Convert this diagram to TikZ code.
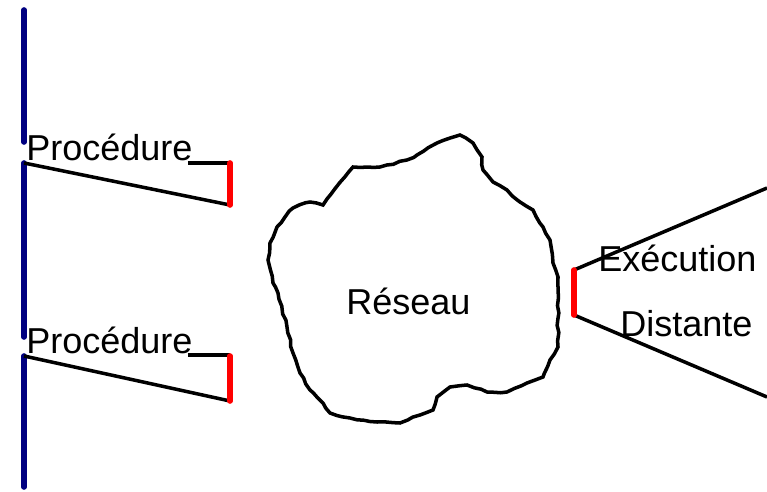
\documentclass[tikz,border=0pt]{standalone}
\usepackage{fontspec}
\setmainfont{Liberation Sans}
\usetikzlibrary{decorations.pathmorphing}
\definecolor{navy}{RGB}{0,0,128}
\tikzset{
  bus/.style={line width=3.2pt,draw=navy,line cap=round},
  port/.style={line width=3.2pt,draw=red,line cap=round},
  link/.style={line width=2pt,draw=black},
  lbl/.style={inner sep=0pt,anchor=base west,font=\fontsize{20.5}{24}\selectfont},
}
\begin{document}
\begin{tikzpicture}[x=0.02cm,y=-0.02cm]
        \useasboundingbox(0,0)rectangle(767,492);
        % bus on the left
        \coordinate(b1)at(24,10);\coordinate(b2)at(24,142);
        \coordinate(b3)at(24,163);\coordinate(b4)at(24,337);
        \coordinate(b5)at(24,356);\coordinate(b6)at(24,487);
        \draw[bus](b1)--(b2);
        \draw[bus](b3)--(b4);
        \draw[bus](b5)--(b6);
        % procedures
        \coordinate(p1t)at(230,163);\coordinate(p1b)at(230,205);
        \coordinate(p2t)at(230,356);\coordinate(p2b)at(230,401);
        \node[lbl](proc1)at(26,161){Procédure};
        \node[lbl](proc2)at(26,354){Procédure};
        \draw[link](b3)--(p1b);
        \draw[link](proc1.base east)++(-5,2)coordinate(h1)--(h1-|p1t);
        \draw[link](b5)--(p2b);
        \draw[link](proc2.base east)++(-5,1)coordinate(h2)--(h2-|p2t);
        \draw[port](p1t)--(p1b);
        \draw[port](p2t)--(p2b);
        % network
        \draw[link,decorate,decoration={random steps,segment length=4pt,amplitude=0.5pt}]
          (323,205)--(353,167)--(380,167)--(407,160)--(417,155)--(437,143)--(460,135)
          --(473,143)--(482,157)--(483,170)--(493,182)--(507,190)--(520,202)--(533,210)
          --(543,227)--(550,240)--(553,263)--(558,277)--(558,347)--(550,360)--(543,377)
          --(527,383)--(507,392)--(487,392)--(467,385)--(450,387)--(437,397)--(433,410)
          --(420,415)--(400,423)--(377,422)--(350,418)--(330,413)--(323,403)--(310,390)
          --(300,373)--(293,353)--(287,327)--(278,293)--(273,283)--(268,260)--(270,243)
          --(277,227)--(285,217)--(293,208)--(310,202)--cycle;
        \node[lbl](net)at(346,315){Réseau};
        % remote execution
        \coordinate(rt)at(574,270);\coordinate(rb)at(574,315);
        \coordinate(e1)at(767,188);\coordinate(e2)at(767,397);
        \draw[link](rt)--(e1);
        \draw[link](rb)--(e2);
        \draw[port](rt)--(rb);
        \node[lbl](exec)at(598,272){Exécution};
        \node[lbl](dist)at(620,337){Distante};
\end{tikzpicture}
\end{document}
